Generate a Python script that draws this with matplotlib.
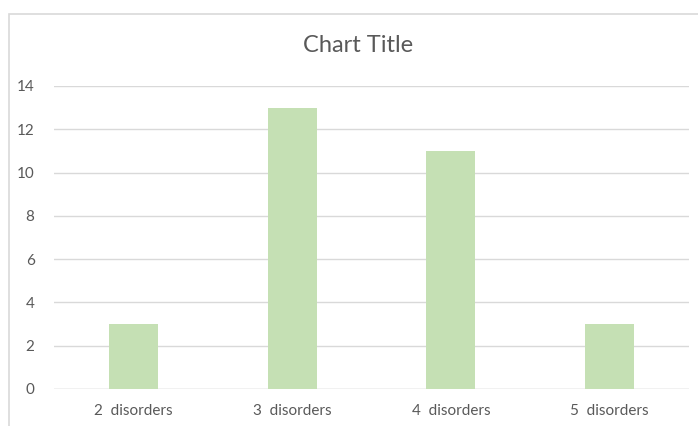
import matplotlib
matplotlib.use("Agg")
import matplotlib.pyplot as plt
from matplotlib.patches import Rectangle

categories = ["2  disorders", "3  disorders", "4  disorders", "5  disorders"]
values = [3, 13, 11, 3]
yticks = [0, 2, 4, 6, 8, 10, 12, 14]

plt.rcParams['font.family'] = ['Lato', 'DejaVu Sans']

W, H = 698, 426
fig = plt.figure(figsize=(W / 100, H / 100), dpi=100)

# chart border
fig.patches.append(Rectangle((9 / W, -0.1), 1.2, (H - 14) / H + 0.1, transform=fig.transFigure,
                             fill=False, edgecolor="#d9d9d9", linewidth=1.2))

ax = fig.add_axes([54 / W, 37 / H, (689 - 54) / W, (389 - 86) / H])
x = range(len(categories))
ax.bar(x, values, width=0.31, color="#c5e0b4", zorder=2)
ax.set_xlim(-0.5, len(categories) - 0.5)
ax.set_ylim(0, 14)
ax.set_yticks(yticks)
ax.set_xticks(list(x))
ax.set_xticklabels(categories)
ax.yaxis.grid(True, color="#d9d9d9", linewidth=1.0, zorder=0)
ax.set_axisbelow(True)
for s in ax.spines.values():
    s.set_visible(False)
ax.tick_params(axis="both", length=0, colors="#595959", labelsize=11)
ax.tick_params(axis="y", pad=14)
ax.tick_params(axis="x", pad=11)
ax.axhline(0, color="#d9d9d9", linewidth=1.0, zorder=1)

fig.text(358 / W, 1 - 45 / H, "Chart Title", ha="center", va="center", fontsize=17, color="#595959")

fig.savefig("out.png", dpi=100)
